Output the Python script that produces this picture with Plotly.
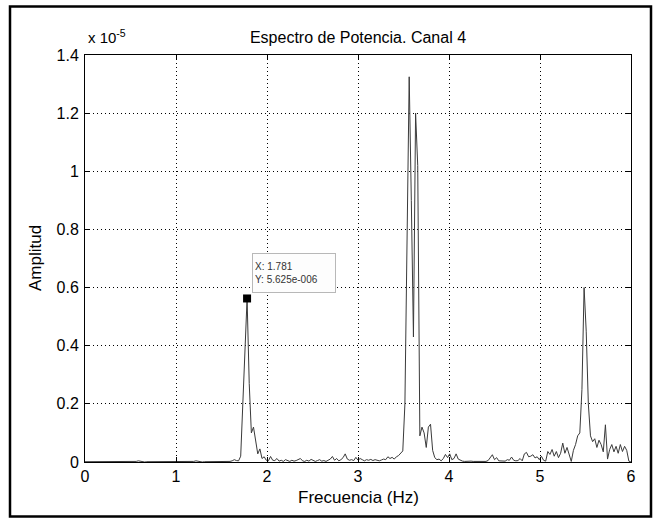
import plotly.graph_objects as go

# ---------------- data ----------------
freq_step = 6 / 256  # Hz per bin
# amplitude in units of 1e-5, bins k = 0..256
amp_e5 = [
    0.001, 0.001, 0.000, 0.001, 0.001, 0.000, 0.001, 0.001, 0.000, 0.001,
    0.001, 0.000, 0.001, 0.001, 0.000, 0.001, 0.000, 0.001, 0.001, 0.000,
    0.001, 0.001, 0.000, 0.001, 0.002, 0.004, 0.002, 0.001, 0.000, 0.001,
    0.001, 0.000, 0.001, 0.001, 0.000, 0.001, 0.001, 0.000, 0.001, 0.001,
    0.000, 0.001, 0.001, 0.000, 0.001, 0.001, 0.000, 0.001, 0.001, 0.001,
    0.001, 0.002, 0.004, 0.002, 0.001, 0.000, 0.001, 0.001, 0.000, 0.001,
    0.001, 0.000, 0.001, 0.001, 0.001, 0.000, 0.001, 0.001, 0.002, 0.004,
    0.008, 0.005, 0.004, 0.020, 0.220, 0.430, 0.5625, 0.270, 0.100, 0.120,
    0.070, 0.028, 0.045, 0.012, 0.018, 0.006, 0.004, 0.019, 0.006, 0.005,
    0.012, 0.003, 0.006, 0.002, 0.008, 0.004, 0.002, 0.006, 0.003, 0.005,
    0.008, 0.012, 0.004, 0.002, 0.006, 0.003, 0.009, 0.004, 0.002, 0.005,
    0.008, 0.003, 0.005, 0.002, 0.007, 0.010, 0.019, 0.006, 0.012, 0.004,
    0.008, 0.015, 0.028, 0.010, 0.006, 0.008, 0.005, 0.016, 0.006, 0.012,
    0.008, 0.004, 0.008, 0.006, 0.009, 0.005, 0.008, 0.006, 0.004, 0.007,
    0.010, 0.008, 0.018, 0.012, 0.016, 0.010, 0.018, 0.022, 0.030, 0.038,
    0.200, 0.800, 1.325, 0.900, 0.430, 1.200, 1.020, 0.090, 0.120, 0.100,
    0.050, 0.120, 0.130, 0.040, 0.015, 0.008, 0.010, 0.004, 0.012, 0.026,
    0.015, 0.028, 0.008, 0.012, 0.028, 0.010, 0.005, 0.003, 0.002, 0.003,
    0.002, 0.003, 0.002, 0.002, 0.003, 0.002, 0.002, 0.003, 0.002, 0.005,
    0.014, 0.025, 0.008, 0.015, 0.004, 0.003, 0.002, 0.003, 0.008, 0.006,
    0.017, 0.006, 0.004, 0.005, 0.012, 0.004, 0.028, 0.033, 0.018, 0.020,
    0.025, 0.014, 0.018, 0.008, 0.020, 0.006, 0.003, 0.036, 0.026, 0.043,
    0.020, 0.036, 0.015, 0.030, 0.065, 0.030, 0.050, 0.025, 0.002, 0.040,
    0.060, 0.090, 0.100, 0.250, 0.600, 0.450, 0.200, 0.090, 0.070, 0.080,
    0.050, 0.075, 0.060, 0.035, 0.128, 0.010, 0.043, 0.060, 0.035, 0.054,
    0.030, 0.060, 0.036, 0.054, 0.040, 0.003, 0.000,
]
freq_hz = [k * freq_step for k in range(len(amp_e5))]

x_ticks = [0, 1, 2, 3, 4, 5, 6]
y_ticks = [0, 0.2, 0.4, 0.6, 0.8, 1.0, 1.2, 1.4]
y_tick_labels = ["0", "0.2", "0.4", "0.6", "0.8", "1", "1.2", "1.4"]

tip_freq = 1.781
tip_amp_e5 = 0.5625
tip_text = "X: 1.781<br>Y: 5.625e-006"

title_text = "Espectro de Potencia. Canal 4"
x_label = "Frecuencia (Hz)"
y_label = "Amplitud"

# ---------------- figure ----------------
W, H = 654, 519
L, R, T, B = 85, 23, 55, 57
pw, ph = W - L - R, H - T - B
FONT = "Liberation Sans, Arial, Helvetica, sans-serif"

def px_x(px):
    return (px - L) / pw

def px_y(py):
    return (H - B - py) / ph

fig = go.Figure()
fig.add_trace(go.Scatter(
    x=freq_hz, y=amp_e5, mode="lines",
    line=dict(color="#3a3a3a", width=1),
    hoverinfo="skip", showlegend=False,
))
fig.add_trace(go.Scatter(
    x=[tip_freq], y=[tip_amp_e5], mode="markers",
    marker=dict(symbol="square", size=8, color="black"),
    hoverinfo="skip", showlegend=False,
))

axis_common = dict(
    showline=True, linecolor="black", linewidth=1, mirror="ticks",
    ticks="inside", ticklen=5, tickcolor="black",
    showgrid=True, gridcolor="black", gridwidth=1, griddash="1px,3px",
    zeroline=False,
    tickfont=dict(family=FONT, size=16, color="black"),
)

fig.update_xaxes(range=[0, 6], tickvals=x_ticks, **axis_common)
fig.update_yaxes(range=[0, 1.4], tickvals=y_ticks, ticktext=y_tick_labels,
                 ticklabelstandoff=2, **axis_common)

fig.update_layout(
    width=W, height=H,
    margin=dict(l=L, r=R, t=T, b=B),
    paper_bgcolor="white", plot_bgcolor="white",
    title=dict(text=title_text, x=0.5, xref="paper", y=1 - 37 / H,
               yref="container", xanchor="center", yanchor="middle",
               font=dict(family=FONT, size=16, color="black")),
    showlegend=False,
)

fig.add_annotation(
    text=x_label, xref="paper", yref="paper", x=0.5, y=px_y(497),
    xanchor="center", yanchor="middle", showarrow=False,
    font=dict(family=FONT, size=17, color="black"),
)
fig.add_annotation(
    text=y_label, xref="paper", yref="paper", x=px_x(35), y=px_y(258),
    xanchor="center", yanchor="middle", showarrow=False, textangle=-90,
    font=dict(family=FONT, size=17, color="black"),
)
fig.add_annotation(
    text="x 10<sup>-5</sup>", xref="paper", yref="paper", x=px_x(86), y=px_y(48),
    xanchor="left", yanchor="bottom", showarrow=False,
    font=dict(family=FONT, size=15, color="black"),
)
fig.add_annotation(
    text=tip_text, x=tip_freq, y=tip_amp_e5, xref="x", yref="y",
    xanchor="left", yanchor="bottom", xshift=5, yshift=5, showarrow=False,
    align="left", width=78, height=34, borderpad=2,
    bgcolor="#fdfdfd", bordercolor="#b8b8b8", borderwidth=1,
    font=dict(family=FONT, size=10, color="#333333"),
)

# outer frame of the screenshot
fig.add_shape(type="rect", xref="paper", yref="paper",
              x0=px_x(10), x1=px_x(651), y0=px_y(516.5), y1=px_y(6.5),
              line=dict(color="black", width=2.5), fillcolor="rgba(0,0,0,0)")

fig.write_html("out.html")
